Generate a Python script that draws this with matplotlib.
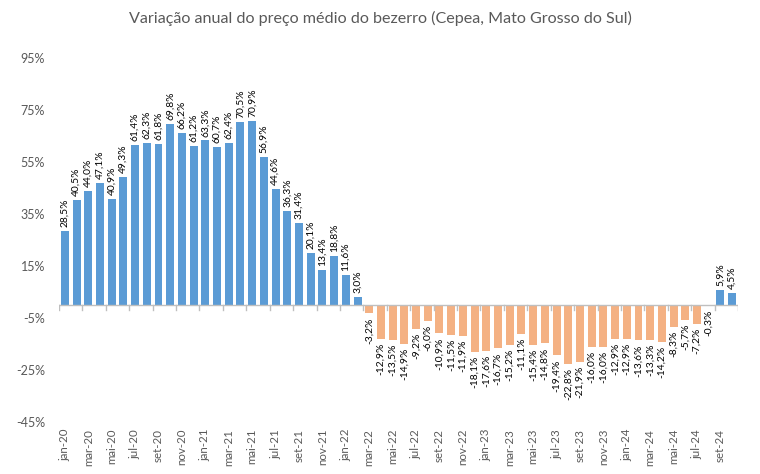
#Annual change of the average calf price (Cepea, MS)

#import the libraries
import numpy as np
import matplotlib.pyplot as plt

plt.rcParams['font.family'] = ['Lato', 'DejaVu Sans']

#store the data
meses = ['jan', 'fev', 'mar', 'abr', 'mai', 'jun', 'jul', 'ago', 'set', 'out', 'nov', 'dez']
anos = ['20', '21', '22', '23', '24']
categorias = [m + '-' + a for a in anos for m in meses][:58]

variacao = [28.5, 40.5, 44.0, 47.1, 40.9, 49.3, 61.4, 62.3, 61.8, 69.8, 66.2, 61.2,
            63.3, 60.7, 62.4, 70.5, 70.9, 56.9, 44.6, 36.3, 31.4, 20.1, 13.4, 18.8,
            11.6, 3.0, -3.2, -12.9, -13.5, -14.9, -9.2, -6.0, -10.9, -11.5, -11.9, -18.1,
            -17.6, -16.7, -15.2, -11.1, -15.4, -14.8, -19.4, -22.8, -21.9, -16.0, -16.0, -12.9,
            -12.9, -13.6, -13.3, -14.2, -8.3, -5.7, -7.2, -0.3, 5.9, 4.5]

y_ticks = [-45, -25, -5, 15, 35, 55, 75, 95]

azul = '#5B9BD5'
laranja = '#F4B183'
cinza = '#595959'

x = np.arange(len(variacao))
cores = [azul if v >= 0 else laranja for v in variacao]

fig = plt.figure(figsize=(7.6, 4.74), dpi=100)
ax = fig.add_axes([59/760, 1 - 422/474, (738-59)/760, (422-58)/474])

ax.bar(x, variacao, width=0.68, color=cores)

#data labels
for i, v in enumerate(variacao):
    txt = ('%.1f' % v).replace('.', ',') + '%'
    if v >= 0:
        ax.text(i, v + 1.5, txt, rotation=90, ha='center', va='bottom', fontsize=7.4, color='black')
    else:
        ax.text(i, v - 1.5, txt, rotation=90, ha='center', va='top', fontsize=7.4, color='black')

#zero line and tick marks between categories
ax.axhline(0, color='#BFBFBF', lw=1)
for b in np.arange(-0.5, len(variacao), 2):
    ax.plot([b, b], [0, -1.8], color='#BFBFBF', lw=1)

ax.set_xlim(-0.5, len(variacao) - 0.5)
ax.set_ylim(-45, 95)
ax.set_yticks(y_ticks)
ax.set_yticklabels([str(t) + '%' for t in y_ticks], color=cinza, fontsize=9)
ax.set_xticks(x[::2])
ax.set_xticklabels(categorias[::2], rotation=90, color=cinza, fontsize=8.3)
ax.tick_params(axis='both', length=0)
ax.tick_params(axis='x', pad=5)
ax.tick_params(axis='y', pad=10)
for s in ax.spines.values():
    s.set_visible(False)

fig.suptitle('Variação anual do preço médio do bezerro (Cepea, Mato Grosso do Sul)',
             y=1 - 18/474, va='center', fontsize=11.6, color=cinza)

fig.savefig('out.png', dpi=100)
